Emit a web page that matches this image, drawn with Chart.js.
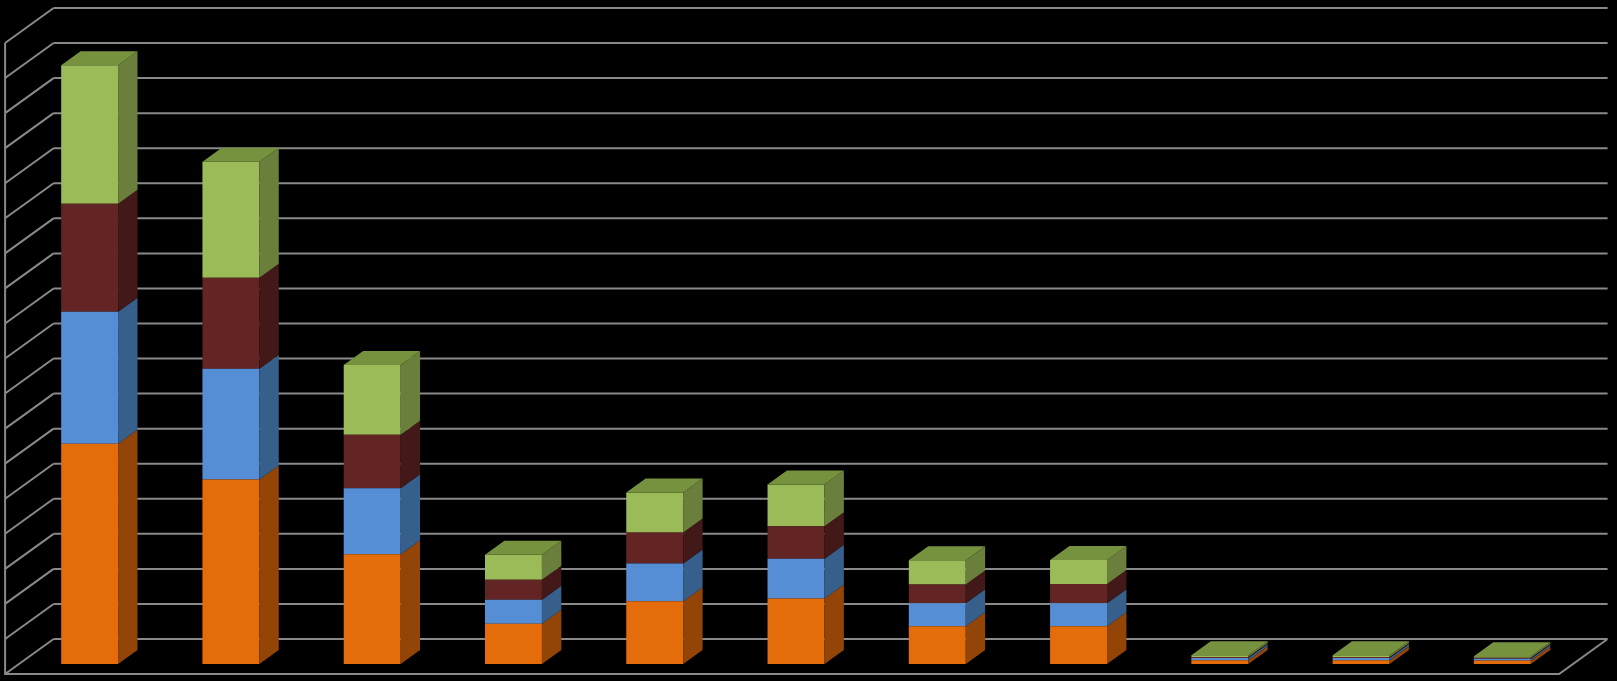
<!DOCTYPE html>
<html>
<head>
<meta charset="utf-8">
<script src="https://cdn.jsdelivr.net/npm/chart.js@4.4.1/dist/chart.umd.min.js"></script>
<style>
  html, body { margin: 0; padding: 0; background: #000; }
  .chart-container { width: 1617px; height: 681px; position: relative; }
</style>
</head>
<body>
<div class="chart-container"><canvas id="chart"></canvas></div>
<script>
// categories and stacked series (in gridline units)
const categories = ['1', '2', '3', '4', '5', '6', '7', '8', '9', '10', '11'];
const orangeSeries = [6.28, 5.26, 3.13, 1.15, 1.79, 1.87, 1.08, 1.08, 0.11, 0.11, 0.10];
const blueSeries   = [3.77, 3.16, 1.88, 0.68, 1.08, 1.13, 0.65, 0.65, 0.06, 0.06, 0.05];
const maroonSeries = [3.08, 2.60, 1.53, 0.57, 0.88, 0.93, 0.54, 0.55, 0.03, 0.03, 0.03];
const greenSeries  = [3.95, 3.31, 1.99, 0.72, 1.14, 1.19, 0.69, 0.69, 0.05, 0.05, 0.04];
const yMax = 18;
const yStep = 1;

const frontColors = ['#E46C0A', '#558ED5', '#632523', '#9BBB59'];
const sideColors  = ['#934507', '#365F8C', '#421818', '#6A7F3B'];
const topColor = '#77923F';
const gridColor = '#898989';

// oblique depth: bar front -> bar back, and bar front -> wall planes
const barDepth = { dx: 19.4, dy: -14 };
const toFront = { dx: -13.9, dy: 10 };
const toBack = { dx: 34.6, dy: -25 };

const walls3d = {
  id: 'walls3d',
  beforeDatasetsDraw(chart) {
    const { ctx, chartArea: a, scales: { y } } = chart;
    ctx.save();
    ctx.strokeStyle = gridColor;
    ctx.lineWidth = 2;
    ctx.beginPath();
    for (let v = 0; v <= yMax; v += yStep) {
      const py = y.getPixelForValue(v);
      // back wall line
      ctx.moveTo(a.left + toBack.dx, py + toBack.dy);
      ctx.lineTo(a.right + toBack.dx, py + toBack.dy);
      // left wall diagonal
      ctx.moveTo(a.left + toFront.dx, py + toFront.dy);
      ctx.lineTo(a.left + toBack.dx, py + toBack.dy);
    }
    // left wall front edge
    const top = y.getPixelForValue(yMax), base = y.getPixelForValue(0);
    ctx.moveTo(a.left + toFront.dx, top + toFront.dy);
    ctx.lineTo(a.left + toFront.dx, base + toFront.dy);
    // floor front and right edges
    ctx.lineTo(a.right + toFront.dx, base + toFront.dy);
    ctx.lineTo(a.right + toBack.dx, base + toBack.dy);
    ctx.stroke();
    ctx.restore();
  },
  afterDatasetsDraw(chart) {
    const { ctx } = chart;
    const last = chart.data.datasets.length - 1;
    ctx.save();
    chart.data.datasets.forEach((ds, i) => {
      const meta = chart.getDatasetMeta(i);
      meta.data.forEach((bar) => {
        const p = bar.getProps(['x', 'y', 'base', 'width'], true);
        const left = p.x - p.width / 2, right = p.x + p.width / 2;
        const t = Math.min(p.y, p.base), b = Math.max(p.y, p.base);
        ctx.fillStyle = sideColors[i];
        ctx.beginPath();
        ctx.moveTo(right, b);
        ctx.lineTo(right, t);
        ctx.lineTo(right + barDepth.dx, t + barDepth.dy);
        ctx.lineTo(right + barDepth.dx, b + barDepth.dy);
        ctx.closePath();
        ctx.fill();
        if (i === last) {
          ctx.fillStyle = topColor;
          ctx.beginPath();
          ctx.moveTo(left, t);
          ctx.lineTo(left + barDepth.dx, t + barDepth.dy);
          ctx.lineTo(right + barDepth.dx, t + barDepth.dy);
          ctx.lineTo(right, t);
          ctx.closePath();
          ctx.fill();
        }
      });
    });
    ctx.restore();
  }
};

const seriesList = [orangeSeries, blueSeries, maroonSeries, greenSeries];
new Chart(document.getElementById('chart'), {
  type: 'bar',
  data: {
    labels: categories,
    datasets: seriesList.map((s, i) => ({
      label: 'Series ' + (i + 1),
      data: s,
      backgroundColor: frontColors[i],
      borderWidth: 0,
      barPercentage: 0.403,
      categoryPercentage: 1
    }))
  },
  options: {
    responsive: true,
    maintainAspectRatio: false,
    animation: false,
    layout: { padding: { left: 19, right: 44, top: 33, bottom: 17 } },
    plugins: { legend: { display: false }, tooltip: { enabled: false } },
    scales: {
      x: { stacked: true, display: false, offset: true },
      y: { stacked: true, display: false, min: 0, max: yMax, ticks: { stepSize: yStep } }
    }
  },
  plugins: [walls3d]
});
</script>
</body>
</html>
